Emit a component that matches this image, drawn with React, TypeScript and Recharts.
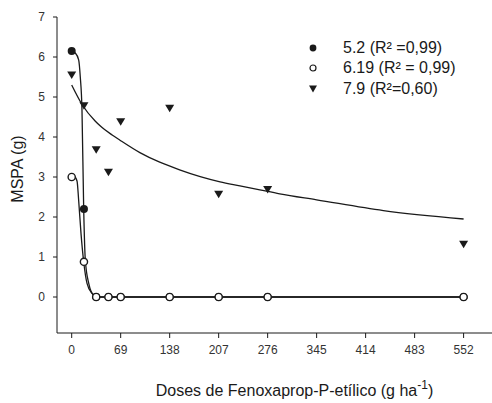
import React from "react";
import {
  ComposedChart,
  XAxis,
  YAxis,
  Line,
  Scatter,
  Label,
} from "recharts";

// ---- data ----
const doses = [0, 17.25, 34.5, 51.75, 69, 138, 207, 276, 552];
const mspa52 = [6.15, 2.2, 0, 0, 0, 0, 0, 0, 0];
const mspa619 = [3.0, 0.88, 0, 0, 0, 0, 0, 0, 0];
const mspa79 = [5.55, 4.78, 3.68, 3.12, 4.38, 4.72, 2.57, 2.69, 1.32];

// fitted curves
const fit52X = [0, 5, 9.8, 12.1, 14.5, 16.9, 19.2, 24, 31, 40, 552];
const fit52Y = [6.15, 6.1, 5.93, 5.5, 4.67, 2.2, 0.92, 0.34, 0.05, 0, 0];
const fit619X = [0, 4, 7.5, 9.8, 13.1, 16.9, 21.6, 28.6, 33, 40, 552];
const fit619Y = [3.0, 3.0, 2.9, 2.42, 1.59, 0.88, 0.34, 0.09, 0.03, 0, 0];
const fit79X = [0, 15, 33, 40, 57, 68, 96, 124, 152, 181, 209, 237, 265, 293, 345, 439, 552];
const fit79Y = [5.3, 4.8, 4.4, 4.28, 4.05, 3.92, 3.61, 3.37, 3.18, 3.01, 2.88, 2.78, 2.68, 2.58, 2.43, 2.16, 1.95];

const xTicks = [0, 69, 138, 207, 276, 345, 414, 483, 552];
const yTicks = [0, 1, 2, 3, 4, 5, 6, 7];

const seriesNames = ["5.2 (R² =0,99)", "6.19 (R² = 0,99)", "7.9 (R²=0,60)"];
const xTitle = "Doses de Fenoxaprop-P-etílico (g ha";
const xTitleSup = "-1";
const yTitle = "MSPA (g)";

const zip = (xs: number[], ys: number[]) => xs.map((x, i) => ({ x, y: ys[i] }));

const pts52 = zip(doses, mspa52);
const pts619 = zip(doses, mspa619);
const pts79 = zip(doses, mspa79);
const curve52 = zip(fit52X, fit52Y);
const curve619 = zip(fit619X, fit619Y);
const curve79 = zip(fit79X, fit79Y);

const FONT = "'Liberation Sans', Arial, Helvetica, sans-serif";
const INK = "#1a1a1a";

const FilledDot = (p: any) => <circle cx={p.cx} cy={p.cy} r={4} fill={INK} />;
const OpenDot = (p: any) => (
  <circle cx={p.cx} cy={p.cy} r={3.6} fill="#fff" stroke={INK} strokeWidth={1.4} />
);
const DownTri = (p: any) => (
  <path
    d={`M${p.cx - 4.5},${p.cy - 3.5} L${p.cx + 4.5},${p.cy - 3.5} L${p.cx},${p.cy + 4} Z`}
    fill={INK}
  />
);

const LegendBox = () => {
  const markers = [
    <circle cx={5} cy={5} r={3.4} fill={INK} />,
    <circle cx={5} cy={5} r={3} fill="#fff" stroke={INK} strokeWidth={1.2} />,
    <path d="M1,1.5 L9,1.5 L5,8.5 Z" fill={INK} />,
  ];
  return (
    <div
      style={{
        position: "absolute",
        left: 308,
        top: 38,
        fontFamily: FONT,
        fontSize: 16,
        color: INK,
      }}
    >
      {seriesNames.map((n, i) => (
        <div key={n} style={{ display: "flex", alignItems: "center", height: 20.3 }}>
          <svg width={10} height={10} style={{ marginRight: 25 }}>
            {markers[i]}
          </svg>
          <span style={{ whiteSpace: "nowrap" }}>{n}</span>
        </div>
      ))}
    </div>
  );
};

const XTitle = (props: any) => {
  const vb = props.viewBox || {};
  const cx = (vb.x ?? 0) + (vb.width ?? 0) / 2 + 20;
  return (
    <text x={cx} y={396} textAnchor="middle" fontFamily={FONT} fontSize={16} fill={INK}>
      {xTitle}
      <tspan dy={-7} fontSize={12}>{xTitleSup}</tspan>
      <tspan dy={7}>)</tspan>
    </text>
  );
};

const YTitle = () => {
  const cy = 169;
  const cx = 23;
  return (
    <text
      x={cx}
      y={cy}
      transform={`rotate(-90 ${cx} ${cy})`}
      textAnchor="middle"
      fontFamily={FONT}
      fontSize={16}
      fill={INK}
    >
      {yTitle}
    </text>
  );
};

export default function App() {
  return (
    <div style={{ position: "absolute", left: 0, top: 0, width: 492, height: 403, background: "#fff" }}>
      <ComposedChart
        width={492}
        height={403}
        margin={{ top: 17, right: 0, bottom: 0, left: 0 }}
      >
        <XAxis
          type="number"
          dataKey="x"
          domain={[-20.7, 592]}
          ticks={xTicks}
          allowDataOverflow
          height={70}
          tickSize={5}
          tickMargin={7}
          stroke={INK}
          tick={{ fill: "#333", fontSize: 12, fontFamily: FONT }}
        >
          <Label content={<XTitle />} />
        </XAxis>
        <YAxis
          type="number"
          dataKey="y"
          domain={[-0.9, 7]}
          ticks={yTicks}
          allowDataOverflow
          width={57}
          tickSize={4}
          tickMargin={8}
          stroke={INK}
          tick={{ fill: "#333", fontSize: 12, fontFamily: FONT }}
        >
          <Label content={<YTitle />} />
        </YAxis>
        <Line
          data={curve79}
          dataKey="y"
          type="monotone"
          stroke={INK}
          strokeWidth={1.3}
          dot={false}
          activeDot={false}
          isAnimationActive={false}
        />
        <Line
          data={curve52}
          dataKey="y"
          type="monotone"
          stroke={INK}
          strokeWidth={1.3}
          dot={false}
          activeDot={false}
          isAnimationActive={false}
        />
        <Line
          data={curve619}
          dataKey="y"
          type="monotone"
          stroke={INK}
          strokeWidth={1.3}
          dot={false}
          activeDot={false}
          isAnimationActive={false}
        />
        <Scatter data={pts79} dataKey="y" shape={DownTri} isAnimationActive={false} />
        <Scatter data={pts52} dataKey="y" shape={FilledDot} isAnimationActive={false} />
        <Scatter data={pts619} dataKey="y" shape={OpenDot} isAnimationActive={false} />
      </ComposedChart>
      <LegendBox />
    </div>
  );
}
